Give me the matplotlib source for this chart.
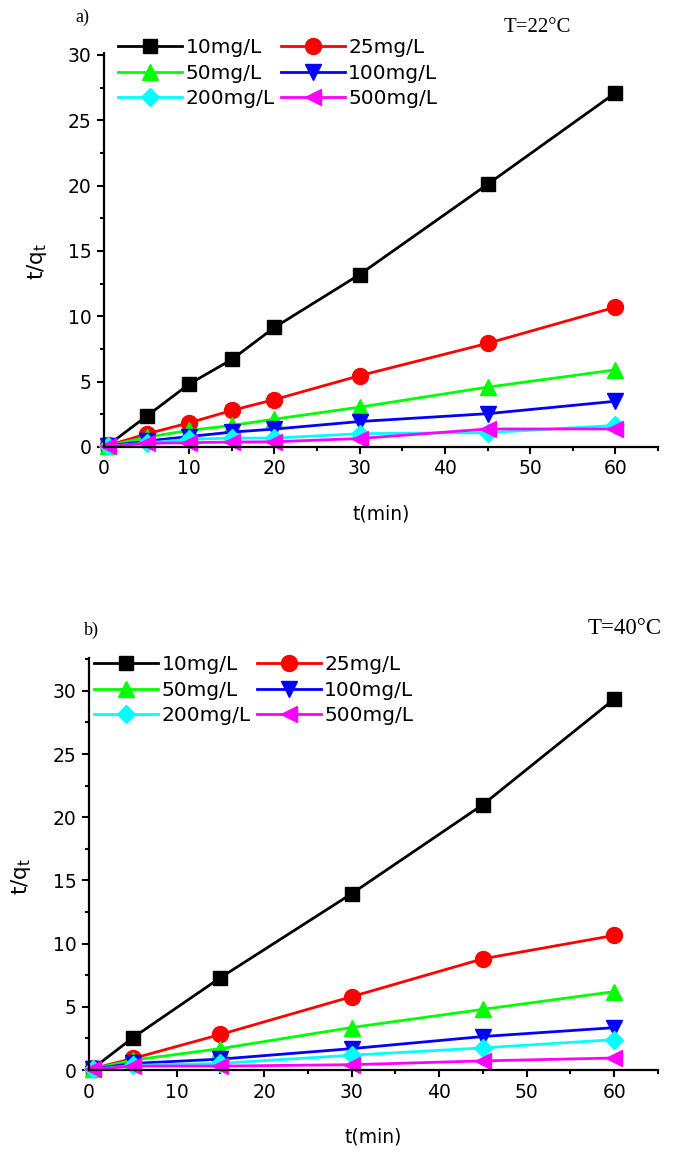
import matplotlib
matplotlib.use("Agg")
import matplotlib.pyplot as plt
from matplotlib.ticker import MultipleLocator

plt.rcParams['font.family'] = ['DejaVu Sans']
plt.rcParams['mathtext.fontset'] = 'dejavusans'

labels = ["10mg/L", "25mg/L", "50mg/L", "100mg/L", "200mg/L", "500mg/L"]
colors = ["#000000", "#ff0000", "#00ff00", "#0000ff", "#00ffff", "#ff00ff"]
markers = ["s", "o", "^", "v", "D", "<"]
msizes = [10, 11.5, 11, 11, 9, 11]

# a) T=22 C
t_a = [0.5, 5, 10, 15, 20, 30, 45, 60]
y_a = [
    [0.15, 2.36, 4.82, 6.7, 9.15, 13.2, 20.1, 27.1],
    [0.12, 1.0, 1.85, 2.8, 3.63, 5.46, 7.93, 10.7],
    [0.1, 0.75, 1.27, 1.65, 2.13, 3.05, 4.58, 5.9],
    [0.08, 0.45, 0.8, 1.14, 1.37, 1.95, 2.55, 3.5],
    [0.06, 0.3, 0.6, 0.68, 0.68, 1.02, 1.1, 1.65],
    [0.05, 0.28, 0.33, 0.38, 0.4, 0.65, 1.38, 1.38],
]

# b) T=40 C
t_b = [0.5, 5, 15, 30, 45, 60]
y_b = [
    [0.15, 2.55, 7.3, 13.95, 21.0, 29.35],
    [0.12, 0.91, 2.81, 5.8, 8.8, 10.65],
    [0.1, 0.78, 1.69, 3.36, 4.8, 6.2],
    [0.08, 0.52, 0.86, 1.69, 2.65, 3.35],
    [0.06, 0.36, 0.52, 1.17, 1.75, 2.4],
    [0.05, 0.31, 0.31, 0.42, 0.72, 0.95],
]

fig = plt.figure(figsize=(6.73, 11.54), dpi=100)
ax1 = fig.add_axes([104 / 673, 707 / 1154, 554 / 673, 394 / 1154])
ax2 = fig.add_axes([89 / 673, 84 / 1154, 569 / 673, 412 / 1154])


def draw(ax, t, ys, ytop, leg_xy, ylab_x):
    lines = []
    for y, c, m, ms, lab in zip(ys, colors, markers, msizes, labels):
        ln, = ax.plot(t, y, color=c, marker=m, markersize=ms, lw=2, label=lab, clip_on=False)
        lines.append(ln)
    ax.set_xlim(0, 65)
    ax.set_ylim(0, ytop)
    ax.xaxis.set_major_locator(MultipleLocator(10))
    ax.xaxis.set_minor_locator(MultipleLocator(5))
    ax.yaxis.set_major_locator(MultipleLocator(5))
    ax.yaxis.set_minor_locator(MultipleLocator(2.5))
    for s in ["top", "right"]:
        ax.spines[s].set_visible(False)
    for s in ["left", "bottom"]:
        ax.spines[s].set_linewidth(1.6)
    ax.tick_params(which="major", direction="out", length=5, width=1.5, labelsize=13.5, pad=4)
    ax.tick_params(which="minor", direction="out", length=3, width=1.5)
    ax.set_xlabel("t(min)", fontsize=13.5, labelpad=19)
    ax.set_ylabel("t/q$_\\mathregular{t}$", fontsize=15.5)
    ax.yaxis.set_label_coords(ylab_x, 0.47)
    # row-wise legend order like the original (10, 25 / 50, 100 / 200, 500)
    order = [0, 2, 4, 1, 3, 5]
    ax.legend([lines[i] for i in order], [labels[i] for i in order],
              loc="upper left", bbox_to_anchor=leg_xy, bbox_transform=fig.transFigure,
              ncol=2, frameon=False, fontsize=14.5, numpoints=1, handlelength=3.2,
              handletextpad=0.15, columnspacing=0.3, labelspacing=0.33,
              borderpad=0, borderaxespad=0)


draw(ax1, t_a, y_a, 30.15, (118 / 673, 1 - 38 / 1154), -0.1)
draw(ax2, t_b, y_b, 32.6, (94 / 673, 1 - 655 / 1154), -0.098)

fig.text(75 / 673, 1 - 17 / 1154, "a)", family="Liberation Serif", fontsize=13, va="center")
fig.text(504 / 673, 1 - 27 / 1154, "T=22°C", family="Liberation Serif", fontsize=15, va="center")
fig.text(84 / 673, 1 - 630 / 1154, "b)", family="Liberation Serif", fontsize=13, va="center")
fig.text(588 / 673, 1 - 628 / 1154, "T=40°C", family="Liberation Serif", fontsize=16.5, va="center")

fig.savefig("out.png", dpi=100)
